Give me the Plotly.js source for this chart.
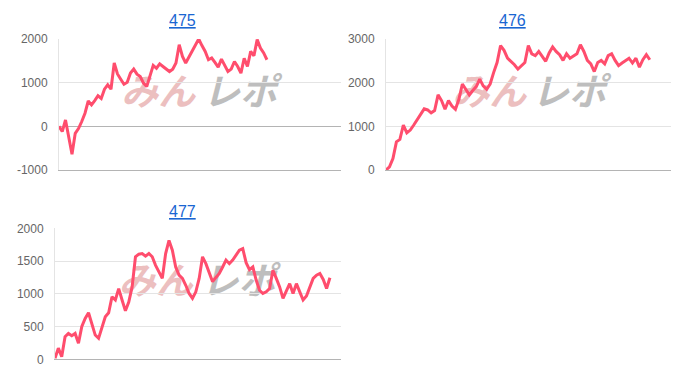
<!DOCTYPE html>
<html><head><meta charset="utf-8">
<script src="https://cdn.plot.ly/plotly-3.0.1.min.js"></script>
<style>html,body{margin:0;padding:0;background:#fff}#chart{width:688px;height:376px}</style>
</head><body><div id="chart"></div>
<script>
// ---- data ----
const titles = ['475', '476', '477'];
const values475 = [0,-120,145,-240,-640,-160,-50,110,300,580,490,590,700,640,850,950,850,1450,1200,1080,965,1010,1220,1310,1195,1140,990,910,1180,1395,1330,1430,1370,1310,1255,1310,1450,1870,1600,1450,1580,1730,1870,2000,1850,1715,1525,1565,1465,1355,1540,1410,1255,1310,1485,1370,1220,1560,1370,1715,1615,1985,1795,1680,1525];
const values476 = [0,70,260,645,700,1030,850,915,1030,1160,1260,1400,1375,1310,1360,1720,1590,1390,1590,1465,1390,1620,1970,1850,1720,1820,1910,2080,1925,1850,1970,2230,2460,2850,2740,2560,2490,2410,2310,2390,2460,2850,2660,2620,2715,2600,2490,2680,2820,2715,2640,2510,2660,2560,2610,2660,2870,2715,2510,2430,2255,2460,2510,2430,2620,2660,2510,2390,2450,2510,2560,2450,2560,2355,2525,2640,2525];
const values477 = [15,170,40,345,395,360,395,245,500,625,710,525,370,320,500,650,710,955,905,1080,905,740,875,1105,1565,1605,1615,1575,1615,1565,1435,1335,1235,1615,1815,1665,1410,1285,1235,1130,1005,930,1030,1235,1565,1460,1320,1185,1250,1310,1410,1515,1460,1515,1590,1665,1690,1475,1370,1410,1210,1055,1005,1030,1080,1360,1235,1105,930,1055,1155,1005,1155,1030,905,965,1105,1235,1285,1310,1220,1080,1245];
const yTicks475 = [-1000, 0, 1000, 2000];
const yTicks476 = [0, 1000, 2000, 3000];
const yTicks477 = [0, 500, 1000, 1500, 2000];
const watermarkA = 'みん';
const watermarkB = 'レポ';

// ---- layout geometry (pixels) ----
const W = 688, H = 376;
const panels = [
  {title: titles[0], vals: values475, ticks: yTicks475, xd: [59, 341], yd: [39, 170], xSlots: 86.8, tx: 182, ty: 21, wm: [0.352, 0.642]},
  {title: titles[1], vals: values476, ticks: yTicks476, xd: [386, 671], yd: [39, 170], xSlots: 82.1, tx: 512, ty: 21, wm: [0.362, 0.642]},
  {title: titles[2], vals: values477, ticks: yTicks477, xd: [55, 341], yd: [228.3, 359.3], xSlots: 85.3, tx: 182, ty: 211, wm: [0.352, 0.642]}
];

const LINE = '#ff4d6d';
const tickFont = {family: 'Liberation Sans, Arial, sans-serif', size: 12, color: '#666666'};
const data = [];
const layout = {
  width: W, height: H,
  margin: {l: 0, r: 0, t: 0, b: 0},
  paper_bgcolor: '#ffffff', plot_bgcolor: 'rgba(0,0,0,0)',
  showlegend: false,
  annotations: [], shapes: []
};

panels.forEach((p, i) => {
  const sfx = i === 0 ? '' : String(i + 1);
  const xa = 'x' + sfx, ya = 'y' + sfx;
  data.push({
    type: 'scatter', mode: 'lines',
    x: p.vals.map((_, k) => k), y: p.vals,
    xaxis: xa, yaxis: ya,
    line: {color: LINE, width: 3},
    hoverinfo: 'skip'
  });
  layout['xaxis' + sfx] = {
    domain: [p.xd[0] / W, p.xd[1] / W],
    anchor: ya, range: [0, p.xSlots],
    showgrid: false, zeroline: false, showticklabels: false, ticks: '',
    showline: true, linecolor: '#b4b4b4', linewidth: 1, fixedrange: true
  };
  layout['yaxis' + sfx] = {
    domain: [1 - p.yd[1] / H, 1 - p.yd[0] / H],
    anchor: xa,
    range: [p.ticks[0], p.ticks[p.ticks.length - 1]],
    tickvals: p.ticks, ticktext: p.ticks.map(String),
    showgrid: true, gridcolor: '#e4e4e4', gridwidth: 1,
    zeroline: true, zerolinecolor: '#b4b4b4', zerolinewidth: 1,
    showline: true, linecolor: '#e4e4e4', linewidth: 1,
    ticks: '', ticklabelstandoff: 8, tickfont: tickFont, fixedrange: true
  };
  layout.annotations.push({
    text: p.title, xref: 'paper', yref: 'paper',
    x: p.tx / W, y: 1 - p.ty / H, xanchor: 'center', yanchor: 'middle',
    showarrow: false,
    font: {family: 'Liberation Sans, Arial, sans-serif', size: 16, color: '#1a66d2', lineposition: 'under'}
  });
  [[watermarkA, '#ecbfbf', p.wm[0]], [watermarkB, '#bebebe', p.wm[1]]].forEach(([t, c, cx]) => {
    layout.shapes.push({
      type: 'rect', xref: xa + ' domain', yref: ya + ' domain',
      x0: cx - 0.14, x1: cx + 0.14, y0: 0.45, y1: 0.70,
      line: {width: 0}, fillcolor: 'rgba(0,0,0,0)', layer: 'below',
      label: {text: '<b>' + t + '</b>', textposition: 'middle center',
        font: {family: 'Noto Sans CJK JP, sans-serif', size: 37, color: c, style: 'italic'}}
    });
  });
});

Plotly.newPlot('chart', data, layout, {staticPlot: true, displayModeBar: false});
</script>
</body></html>
